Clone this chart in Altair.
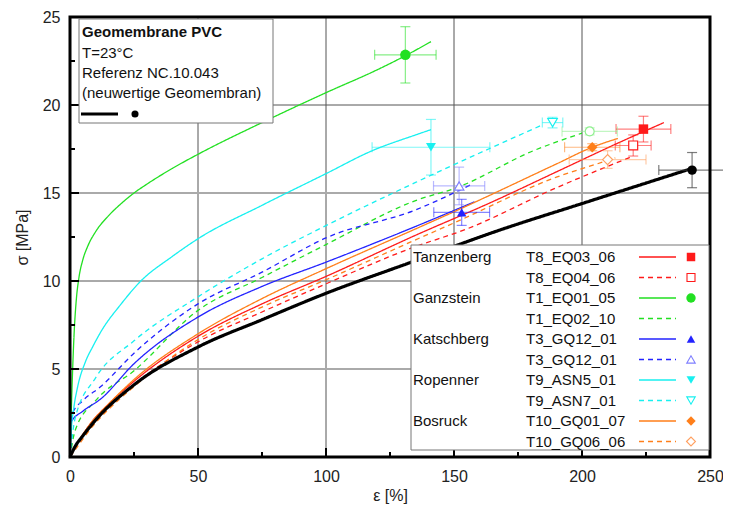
import altair as alt
import pandas as pd

# ---------------- data ----------------
# curves: strain [%] , stress [MPa]
ref_x = [0, 2, 5, 10, 25, 50, 75, 100, 132, 168, 200, 243]
ref_y = [0, 0.6, 1.2, 2.1, 4.1, 6.25, 7.8, 9.3, 11.0, 12.9, 14.4, 16.4]

t8a_x = [0, 3, 8, 15, 25, 50, 75, 100, 135, 165, 190, 215, 232]
t8a_y = [0, 0.8, 1.9, 3.0, 4.3, 6.86, 8.7, 10.26, 12.6, 14.5, 16.2, 17.9, 19.0]
t8b_x = [0, 3, 8, 15, 25, 50, 75, 100, 135, 154, 190, 220]
t8b_y = [0, 0.7, 1.7, 2.8, 4.1, 6.54, 8.24, 9.84, 11.96, 12.9, 15.3, 17.1]
t1a_x = [0, 0.8, 1.6, 2.5, 3.5, 5, 7, 10, 15, 20, 25, 30, 40, 50, 75, 100, 120, 131, 141]
t1a_y = [0, 4.0, 7.0, 9.0, 10.2, 11.2, 12.0, 12.8, 13.7, 14.4, 15.0, 15.5, 16.4, 17.2, 19.0, 20.7, 22.0, 22.8, 23.6]
t1b_x = [0, 2, 10, 25, 50, 75, 100, 135, 151, 181, 200]
t1b_y = [0, 1.5, 3.2, 4.9, 8.33, 10.2, 12.07, 14.57, 15.3, 17.4, 18.4]
t3a_x = [0, 0.5, 5, 12, 25, 50, 75, 100, 135, 158]
t3a_y = [0, 2.0, 2.6, 3.3, 5.3, 7.95, 9.69, 11.07, 13.1, 14.5]
t3b_x = [0, 1, 5, 12, 25, 50, 75, 100, 135, 157]
t3b_y = [0, 2.5, 3.2, 4.0, 5.9, 8.7, 10.5, 12.45, 14.04, 15.5]
t9a_x = [0, 0.5, 1.5, 3, 6, 9, 12, 20, 27, 40, 50, 75, 100, 118, 135, 141]
t9a_y = [0, 1.5, 2.8, 4.0, 5.4, 6.3, 7.1, 8.7, 9.9, 11.4, 12.4, 14.3, 16.1, 17.4, 18.3, 18.6]
t9b_x = [0, 2, 10, 25, 50, 75, 100, 135, 165, 185]
t9b_y = [0, 2.2, 4.5, 6.6, 9.1, 11.26, 13.15, 15.6, 17.6, 18.9]
t10a_x = [0, 3, 8, 15, 25, 50, 75, 100, 135, 151, 190, 204, 214]
t10a_y = [0, 0.8, 1.9, 3.0, 4.4, 7.0, 9.0, 10.7, 12.96, 14.0, 16.65, 17.6, 18.1]
t10b_x = [0, 3, 8, 15, 25, 50, 75, 100, 135, 150, 190, 210, 213]
t10b_y = [0, 0.6, 1.6, 2.7, 4.0, 6.67, 8.52, 10.07, 12.34, 13.3, 15.9, 16.85, 17.0]

# markers at break: x, y, x-error, y-error
pt_names = ["ref", "T8_EQ03_06", "T8_EQ04_06", "T1_EQ01_05", "T1_EQ02_10",
            "T3_GQ12_01a", "T3_GQ12_01b", "T9_ASN5_01", "T9_ASN7_01",
            "T10_GQ01_07", "T10_GQ06_06"]
pt_x = [243, 224, 220, 131, 203, 153, 152, 141, 188.5, 204, 210]
pt_y = [16.3, 18.63, 17.7, 22.85, 18.5, 13.9, 15.4, 17.6, 19.0, 17.6, 16.9]
pt_xe = [13, 10.7, 7, 12, 10.8, 10.9, 10, 23, 4, 10.8, 15]
pt_ye = [1.0, 0.73, 0.6, 1.6, 0.2, 0.74, 1.07, 1.58, 0.3, 0.2, 0.5]

sites = ["Tanzenberg", "", "Ganzstein", "", "Katschberg", "", "Ropenner", "", "Bosruck", ""]
samples = ["T8_EQ03_06", "T8_EQ04_06", "T1_EQ01_05", "T1_EQ02_10", "T3_GQ12_01",
           "T3_GQ12_01", "T9_ASN5_01", "T9_ASN7_01", "T10_GQ01_07", "T10_GQ06_06"]

x_major = [0, 50, 100, 150, 200, 250]
x_minor = [25, 75, 125, 175, 225]
y_major = [0, 5, 10, 15, 20, 25]
y_minor = [2.5, 7.5, 12.5, 17.5, 22.5]

# ---------------- styles ----------------
RED, GREEN, BLUE, CYAN, ORANGE = "#ff1a1a", "#22e022", "#2323ff", "#18f0f0", "#ff7f1a"
series = [
    # name, xs, ys, color, dash, width
    ("T8_EQ03_06", t8a_x, t8a_y, RED, [1, 0], 1.3),
    ("T8_EQ04_06", t8b_x, t8b_y, RED, [5, 4], 1.3),
    ("T1_EQ01_05", t1a_x, t1a_y, GREEN, [1, 0], 1.3),
    ("T1_EQ02_10", t1b_x, t1b_y, GREEN, [5, 4], 1.3),
    ("T3_GQ12_01a", t3a_x, t3a_y, BLUE, [1, 0], 1.3),
    ("T3_GQ12_01b", t3b_x, t3b_y, BLUE, [5, 4], 1.3),
    ("T9_ASN5_01", t9a_x, t9a_y, CYAN, [1, 0], 1.3),
    ("T9_ASN7_01", t9b_x, t9b_y, CYAN, [5, 4], 1.3),
    ("T10_GQ01_07", t10a_x, t10a_y, ORANGE, [1, 0], 1.3),
    ("T10_GQ06_06", t10b_x, t10b_y, ORANGE, [5, 4], 1.3),
    ("ref", ref_x, ref_y, "black", [1, 0], 3.2),
]
pt_style = {
    "ref": ("black", "circle", True, 90),
    "T8_EQ03_06": (RED, "square", True, 90),
    "T8_EQ04_06": (RED, "square", False, 80),
    "T1_EQ01_05": (GREEN, "circle", True, 110),
    "T1_EQ02_10": ("#8fef8f", "circle", False, 80),
    "T3_GQ12_01a": (BLUE, "triangle-up", True, 90),
    "T3_GQ12_01b": ("#8080ff", "triangle-up", False, 90),
    "T9_ASN5_01": (CYAN, "triangle-down", True, 100),
    "T9_ASN7_01": (CYAN, "triangle-down", False, 90),
    "T10_GQ01_07": (ORANGE, "diamond", True, 110),
    "T10_GQ06_06": ("#ffa060", "diamond", False, 100),
}
leg_colors = [RED, RED, GREEN, GREEN, BLUE, BLUE, CYAN, CYAN, ORANGE, ORANGE]
leg_dash = [[1, 0], [5, 4]] * 5
leg_pts = ["T8_EQ03_06", "T8_EQ04_06", "T1_EQ01_05", None, "T3_GQ12_01a",
           "T3_GQ12_01b", "T9_ASN5_01", "T9_ASN7_01", "T10_GQ01_07", "T10_GQ06_06"]

W, H = 640, 440
FONT = "Liberation Sans"
xs = alt.Scale(domain=[0, 250], nice=False, zero=False)
ys = alt.Scale(domain=[0, 25], nice=False, zero=False)

layers = []

# grid
grid_x = pd.DataFrame({"v": x_major[1:-1]})
layers.append(alt.Chart(grid_x).mark_rule(color="#555555", strokeWidth=1).encode(
    x=alt.X("v:Q", scale=xs, title="ε [%]",
            axis=alt.Axis(values=x_major, ticks=False, domain=False, grid=False,
                          labelFontSize=16, labelFont=FONT, labelColor="#222",
                          labelPadding=11, titleFont=FONT, titleFontSize=16,
                          titleFontWeight="normal", titleColor="#222", titlePadding=3,
                          labelFlush=False))))
grid_y1 = pd.DataFrame({"v": [10, 20]})
grid_y2 = pd.DataFrame({"v": [5, 15]})
layers.append(alt.Chart(grid_y1).mark_rule(color="#555555", strokeWidth=1).encode(
    y=alt.Y("v:Q", scale=ys, title="σ [MPa]",
            axis=alt.Axis(values=y_major, ticks=False, domain=False, grid=False,
                          labelFontSize=16, labelFont=FONT, labelColor="#222",
                          labelPadding=10, titleFont=FONT, titleFontSize=16,
                          titleFontWeight="normal", titleColor="#222", titlePadding=12))))
layers.append(alt.Chart(grid_y2).mark_rule(color="#aaaaaa", strokeWidth=2).encode(
    y=alt.Y("v:Q", scale=ys)))

# curves
for name, cx, cy, col, dash, sw in series:
    df = pd.DataFrame({"x": cx, "y": cy, "i": range(len(cx))})
    layers.append(alt.Chart(df).mark_line(color=col, strokeDash=dash, strokeWidth=sw,
                                          interpolate="monotone").encode(
        x=alt.X("x:Q", scale=xs), y=alt.Y("y:Q", scale=ys), order="i:Q"))

# error bars + markers
pts = pd.DataFrame({"name": pt_names, "x": pt_x, "y": pt_y, "xe": pt_xe, "ye": pt_ye})
pts["xlo"] = pts.x - pts.xe
pts["xhi"] = pts.x + pts.xe
pts["ylo"] = pts.y - pts.ye
pts["yhi"] = pts.y + pts.ye
for nm in pt_names:
    col, shape, filled, size = pt_style[nm]
    d = pts[pts.name == nm]
    ecol = col
    op = 0.55 if nm != "ref" else 0.7
    if nm == "ref":
        ecol = "#444444"
    base = alt.Chart(d)
    layers.append(base.mark_rule(color=ecol, opacity=op, strokeWidth=1.2).encode(
        x=alt.X("xlo:Q", scale=xs), x2="xhi:Q", y=alt.Y("y:Q", scale=ys)))
    layers.append(base.mark_rule(color=ecol, opacity=op, strokeWidth=1.2).encode(
        y=alt.Y("ylo:Q", scale=ys), y2="yhi:Q", x=alt.X("x:Q", scale=xs)))
    for c in ["xlo", "xhi"]:
        layers.append(base.mark_tick(color=ecol, opacity=op, orient="vertical",
                                     size=10, thickness=1.2).encode(
            x=alt.X(f"{c}:Q", scale=xs), y=alt.Y("y:Q", scale=ys)))
    for c in ["ylo", "yhi"]:
        layers.append(base.mark_tick(color=ecol, opacity=op, orient="horizontal",
                                     size=10, thickness=1.2).encode(
            y=alt.Y(f"{c}:Q", scale=ys), x=alt.X("x:Q", scale=xs)))
    layers.append(base.mark_point(shape=shape, filled=filled, size=size, color=col,
                                  opacity=1, strokeWidth=1.2,
                                  fill=col if filled else "white").encode(
        x=alt.X("x:Q", scale=xs), y=alt.Y("y:Q", scale=ys)))

# inward ticks
def ticks_x(vals, length):
    d = pd.DataFrame({"v": vals})
    return alt.Chart(d).mark_rule(color="black", strokeWidth=2).encode(
        x=alt.X("v:Q", scale=xs), y=alt.value(H), y2=alt.value(H - length))

def ticks_y(vals, length):
    d = pd.DataFrame({"v": vals})
    return alt.Chart(d).mark_rule(color="black", strokeWidth=2).encode(
        y=alt.Y("v:Q", scale=ys), x=alt.value(0), x2=alt.value(length))

layers += [ticks_x(x_major, 9), ticks_x(x_minor, 5), ticks_y(y_major, 9), ticks_y(y_minor, 5)]

# frame
frame = pd.DataFrame({"a": [0]})
layers.append(alt.Chart(frame).mark_rect(fill=None, stroke="black", strokeWidth=3).encode(
    x=alt.value(0), x2=alt.value(W), y=alt.value(0), y2=alt.value(H)))

# info box (top-left)
layers.append(alt.Chart(frame).mark_rect(fill="white", stroke="#777777", strokeWidth=1).encode(
    x=alt.value(9), x2=alt.value(203), y=alt.value(2), y2=alt.value(106)))
info = pd.DataFrame({"t": ["Geomembrane PVC", "T=23°C", "Referenz NC.10.043",
                           "(neuwertige Geomembran)"],
                     "py": [15, 36, 56, 76], "w": ["bold", "normal", "normal", "normal"]})
for _, r in info.iterrows():
    layers.append(alt.Chart(pd.DataFrame([r])).mark_text(
        align="left", baseline="middle", font=FONT, fontSize=15, color="#111",
        fontWeight=r["w"]).encode(x=alt.value(12), y=alt.value(r["py"]), text="t:N"))
layers.append(alt.Chart(frame).mark_rule(color="black", strokeWidth=3).encode(
    x=alt.value(11), x2=alt.value(48), y=alt.value(97)))
layers.append(alt.Chart(frame).mark_point(shape="circle", filled=True, size=50,
                                          color="black", opacity=1).encode(
    x=alt.value(65), y=alt.value(97)))

# legend box
layers.append(alt.Chart(frame).mark_rect(fill="white", stroke="#777777", strokeWidth=1).encode(
    x=alt.value(341), x2=alt.value(639), y=alt.value(228), y2=alt.value(433)))
leg = pd.DataFrame({"site": sites, "sample": samples})
leg["py"] = [240 + 20.5 * i for i in range(len(leg))]
layers.append(alt.Chart(leg).mark_text(align="left", baseline="middle", font=FONT,
                                       fontSize=15, color="#111").encode(
    x=alt.value(343), y=alt.Y("py:Q", scale=None), text="site:N"))
layers.append(alt.Chart(leg).mark_text(align="left", baseline="middle", font=FONT,
                                       fontSize=15, color="#111").encode(
    x=alt.value(456), y=alt.Y("py:Q", scale=None), text="sample:N"))
for i in range(len(leg)):
    py = 240 + 20.5 * i
    layers.append(alt.Chart(frame).mark_rule(color=leg_colors[i], strokeDash=leg_dash[i],
                                             strokeWidth=1.3).encode(
        x=alt.value(569), x2=alt.value(606), y=alt.value(py)))
    if leg_pts[i] is not None:
        col, shape, filled, size = pt_style[leg_pts[i]]
        layers.append(alt.Chart(frame).mark_point(shape=shape, filled=filled,
                                                  size=size * 0.8, color=col, opacity=1,
                                                  strokeWidth=1.1).encode(
            x=alt.value(621), y=alt.value(py)))

chart = alt.layer(*layers).properties(
    width=W, height=H,
    autosize=alt.AutoSizeParams(type="none"),
    padding={"left": 62, "top": 9, "right": 13, "bottom": 50},
).configure_view(stroke=None).configure(background="white")

chart.save("out.html", embed_options={"renderer": "svg", "actions": False})
